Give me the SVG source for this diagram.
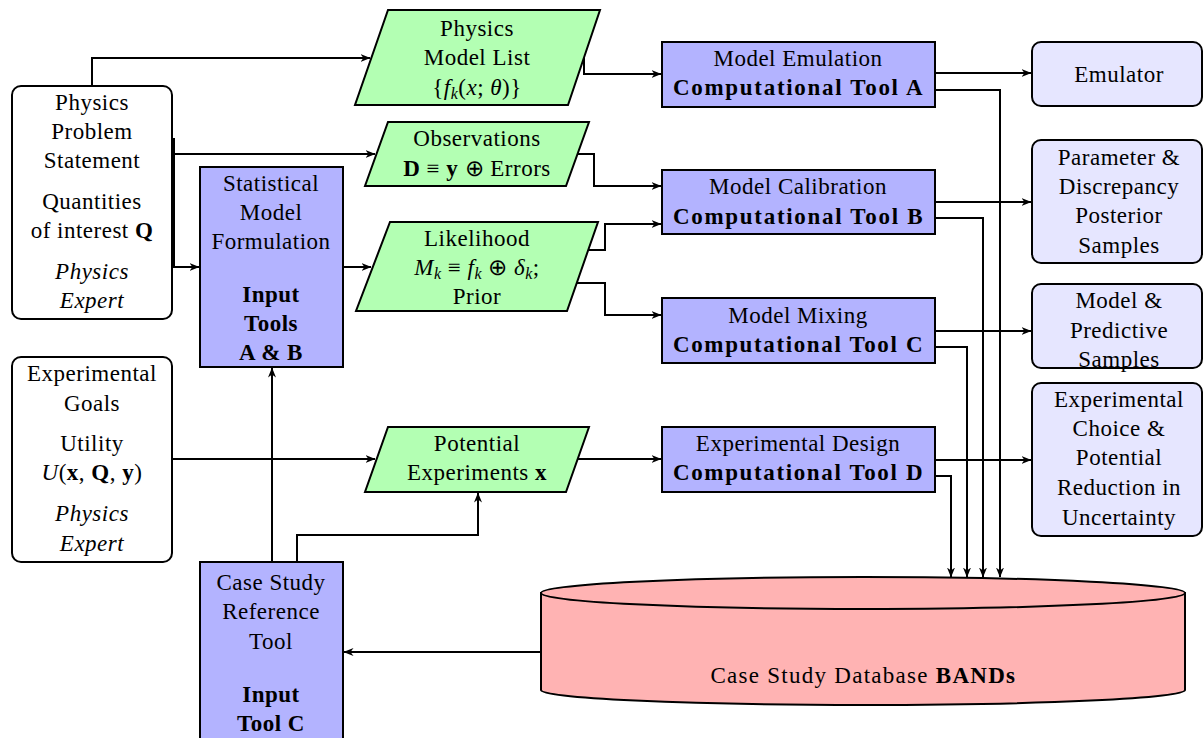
<svg xmlns="http://www.w3.org/2000/svg" width="1203" height="738" viewBox="0 0 1203 738">
<defs>
<marker id="arr" viewBox="0 0 10 8" refX="9.5" refY="4" markerWidth="10" markerHeight="8" markerUnits="userSpaceOnUse" orient="auto">
<path d="M0,0 L10,4 L0,8 L3,4 z" fill="#000"/>
</marker>
<style>
text{font-family:"Liberation Serif","Times New Roman",serif;font-size:23px;letter-spacing:0.5px;fill:#000;text-anchor:middle}
.b{font-weight:bold}
.i{font-style:italic}
.tool{fill:#b3b3ff;stroke:#000;stroke-width:2}
.data{fill:#b3ffb3;stroke:#000;stroke-width:2}
.out{fill:#e6e6ff;stroke:#000;stroke-width:2}
.user{fill:#fff;stroke:#000;stroke-width:2}
.db{fill:#ffb3b3;stroke:#000;stroke-width:2}
#connectors path{fill:none;stroke:#000;stroke-width:2}
.a{marker-end:url(#arr)}
.sub{font-size:16px}
</style>
</defs>
<rect width="1203" height="738" fill="#fff"/>

<g id="connectors">
<path class="a" d="M92,86 V58 H370"/>
<path class="a" d="M174,154 H375"/>
<path class="a" d="M174,138 V267 H199"/>
<path class="a" d="M343,267 H371"/>
<path class="a" d="M584,58 V74 H661"/>
<path class="a" d="M578,154 H594 V186 H661"/>
<path class="a" d="M588,250 H605 V224 H661"/>
<path class="a" d="M577,283 H605 V315 H661"/>
<path class="a" d="M172,459 H375"/>
<path class="a" d="M272,562 V368"/>
<path class="a" d="M297,562 V535 H478 V493"/>
<path class="a" d="M578,459 H661"/>
<path class="a" d="M935,73 H1031"/>
<path class="a" d="M935,90 H1000 V577"/>
<path class="a" d="M935,202 H1031"/>
<path class="a" d="M935,218 H983 V577"/>
<path class="a" d="M935,331 H1031"/>
<path class="a" d="M935,347 H967 V577"/>
<path class="a" d="M935,460 H1031"/>
<path class="a" d="M935,476 H951 V577"/>
<path class="a" d="M541,652 H344"/>
</g>

<g id="physics-problem">
<rect class="user" x="12" y="86" width="160" height="233" rx="9"/>
<text x="92" y="110">Physics</text>
<text x="92" y="139">Problem</text>
<text x="92" y="168">Statement</text>
<text x="92" y="209">Quantities</text>
<text x="92" y="238">of interest <tspan class="b">Q</tspan></text>
<text x="92" y="279" class="i">Physics</text>
<text x="92" y="308" class="i">Expert</text>
</g>

<g id="experimental-goals">
<rect class="user" x="12" y="357" width="160" height="205" rx="9"/>
<text x="92" y="381">Experimental</text>
<text x="92" y="411">Goals</text>
<text x="92" y="451">Utility</text>
<text x="92" y="480"><tspan class="i">U</tspan>(<tspan class="b">x</tspan>, <tspan class="b">Q</tspan>, <tspan class="b">y</tspan>)</text>
<text x="92" y="521" class="i">Physics</text>
<text x="92" y="551" class="i">Expert</text>
</g>

<g id="statistical-model">
<rect class="tool" x="200" y="167" width="143" height="200"/>
<text x="271" y="191">Statistical</text>
<text x="271" y="220">Model</text>
<text x="271" y="249">Formulation</text>
<text x="271" y="302" class="b">Input</text>
<text x="271" y="331" class="b">Tools</text>
<text x="271" y="360" class="b">A &amp; B</text>
</g>

<g id="case-study-reference">
<rect class="tool" x="200" y="562" width="143" height="190"/>
<text x="271" y="590">Case Study</text>
<text x="271" y="619">Reference</text>
<text x="271" y="649">Tool</text>
<text x="271" y="702" class="b">Input</text>
<text x="271" y="731" class="b">Tool C</text>
</g>

<g id="physics-model-list">
<polygon class="data" points="388,10 600,10 568,105 355,105"/>
<text x="477" y="36">Physics</text>
<text x="477" y="65">Model List</text>
<text x="477" y="95">{<tspan class="i">f</tspan><tspan class="i sub" dy="4">k</tspan><tspan dy="-4">(</tspan><tspan class="i">x</tspan>; <tspan class="i">θ</tspan>)}</text>
</g>

<g id="observations">
<polygon class="data" points="388,122 589,122 566,186 365,186"/>
<text x="477" y="146">Observations</text>
<text x="477" y="176"><tspan class="b">D</tspan> ≡ <tspan class="b">y</tspan> ⊕ Errors</text>
</g>

<g id="likelihood">
<polygon class="data" points="390,222 598,222 567,311 356,311"/>
<text x="477" y="246">Likelihood</text>
<text x="477" y="275"><tspan class="i">M</tspan><tspan class="i sub" dy="4">k</tspan><tspan dy="-4"> ≡ </tspan><tspan class="i">f</tspan><tspan class="i sub" dy="4">k</tspan><tspan dy="-4"> ⊕ </tspan><tspan class="i">δ</tspan><tspan class="i sub" dy="4">k</tspan><tspan dy="-4">;</tspan></text>
<text x="477" y="304">Prior</text>
</g>

<g id="potential-experiments">
<polygon class="data" points="388,427 589,427 566,492 365,492"/>
<text x="477" y="451">Potential</text>
<text x="477" y="480">Experiments <tspan class="b">x</tspan></text>
</g>

<g id="tool-a">
<rect class="tool" x="662" y="42" width="273" height="65"/>
<text x="798" y="66">Model Emulation</text>
<text x="798" y="95" class="b" textLength="250">Computational Tool A</text>
</g>

<g id="tool-b">
<rect class="tool" x="662" y="170" width="273" height="64"/>
<text x="798" y="194">Model Calibration</text>
<text x="798" y="224" class="b" textLength="250">Computational Tool B</text>
</g>

<g id="tool-c">
<rect class="tool" x="662" y="298" width="273" height="65"/>
<text x="798" y="323">Model Mixing</text>
<text x="798" y="352" class="b" textLength="250">Computational Tool C</text>
</g>

<g id="tool-d">
<rect class="tool" x="662" y="427" width="273" height="65"/>
<text x="798" y="451">Experimental Design</text>
<text x="798" y="480" class="b" textLength="250">Computational Tool D</text>
</g>

<g id="emulator">
<rect class="out" x="1032" y="42" width="170" height="64" rx="9"/>
<text x="1119" y="82">Emulator</text>
</g>

<g id="posterior-samples">
<rect class="out" x="1032" y="140" width="170" height="123" rx="9"/>
<text x="1119" y="165">Parameter &amp;</text>
<text x="1119" y="194">Discrepancy</text>
<text x="1119" y="223">Posterior</text>
<text x="1119" y="253">Samples</text>
</g>

<g id="predictive-samples">
<rect class="out" x="1032" y="284" width="170" height="84" rx="9"/>
<text x="1119" y="308">Model &amp;</text>
<text x="1119" y="338">Predictive</text>
<text x="1119" y="367">Samples</text>
</g>

<g id="experimental-choice">
<rect class="out" x="1032" y="383" width="170" height="153" rx="9"/>
<text x="1119" y="407">Experimental</text>
<text x="1119" y="436">Choice &amp;</text>
<text x="1119" y="465">Potential</text>
<text x="1119" y="495">Reduction in</text>
<text x="1119" y="525">Uncertainty</text>
</g>

<g id="database">
<path class="db" d="M541,593 V690 A322,15 0 0 0 1185,690 V593 Z"/>
<ellipse class="db" cx="863" cy="593" rx="322" ry="16"/>
<text x="863" y="683" textLength="305">Case Study Database <tspan class="b">BANDs</tspan></text>
</g>
</svg>
